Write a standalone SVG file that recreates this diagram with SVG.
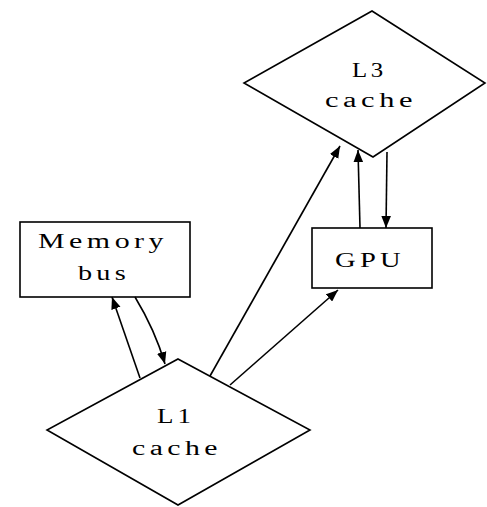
<svg xmlns="http://www.w3.org/2000/svg" width="487" height="507" viewBox="0 0 487 507">
<style>
.n{fill:#fff;stroke:#000;stroke-width:1.6}
.t{font-family:"Liberation Serif","Times New Roman",serif;font-size:20px;letter-spacing:3px;fill:#000}
.e{fill:none;stroke:#000;stroke-width:1.6}
</style>
<defs>
<marker id="a" viewBox="0 0 10 8" refX="10" refY="4" markerWidth="12" markerHeight="10" markerUnits="userSpaceOnUse" orient="auto">
<path d="M0,0L10,4L0,8z" fill="#000"/>
</marker>
</defs>
<g id="L3">
<polygon class="n" points="372,11 485,83 373,157 244,83"/>
<text class="t" x="352" y="77" textLength="35" lengthAdjust="spacingAndGlyphs">L3</text>
<text class="t" x="325" y="107" textLength="92" lengthAdjust="spacingAndGlyphs">cache</text>
</g>
<g id="Memory">
<rect class="n" x="20" y="222" width="170" height="75"/>
<text class="t" x="38" y="248" textLength="130" lengthAdjust="spacingAndGlyphs">Memory</text>
<text class="t" x="78" y="280" textLength="52" lengthAdjust="spacingAndGlyphs">bus</text>
</g>
<g id="GPU">
<rect class="n" x="312" y="228" width="120" height="60"/>
<text class="t" x="335" y="267" textLength="70" lengthAdjust="spacingAndGlyphs">GPU</text>
</g>
<g id="L1">
<polygon class="n" points="178,359 310,430 178,505 47,430"/>
<text class="t" x="157" y="423" textLength="38" lengthAdjust="spacingAndGlyphs">L1</text>
<text class="t" x="132" y="455" textLength="90" lengthAdjust="spacingAndGlyphs">cache</text>
</g>
<g id="edges">
<path class="e" d="M140,378 L112,297" marker-end="url(#a)"/>
<path class="e" d="M135,297 Q155,330 165,364" marker-end="url(#a)"/>
<path class="e" d="M210,376 L340,146" marker-end="url(#a)"/>
<path class="e" d="M230,385 L338,290" marker-end="url(#a)"/>
<path class="e" d="M360,228 L358,150" marker-end="url(#a)"/>
<path class="e" d="M387,152 L386,228" marker-end="url(#a)"/>
</g>
</svg>
